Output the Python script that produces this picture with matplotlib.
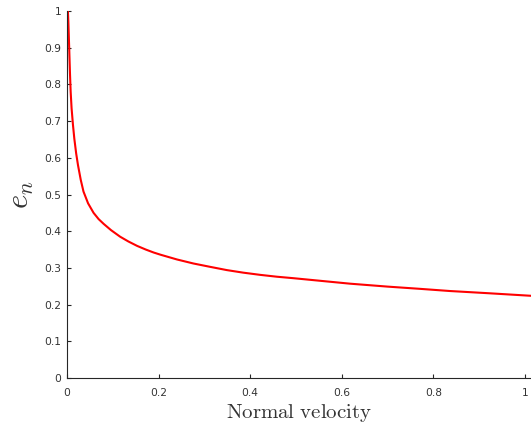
import matplotlib
matplotlib.use('Agg')
import matplotlib.pyplot as plt
from matplotlib.ticker import FormatStrFormatter

# values
velocity = [0.002, 0.003, 0.005, 0.0065, 0.008, 0.010, 0.013, 0.016, 0.020,
            0.024, 0.030, 0.036, 0.046, 0.058, 0.069, 0.080, 0.096, 0.116,
            0.134, 0.153, 0.172, 0.189, 0.204, 0.240, 0.276, 0.312, 0.349,
            0.385, 0.422, 0.458, 0.494, 0.560, 0.618, 0.700, 0.770, 0.836,
            0.920, 1.013]
e_n = [1.0, 0.97, 0.89, 0.83, 0.78, 0.735, 0.69, 0.652, 0.612,
       0.580, 0.540, 0.508, 0.476, 0.450, 0.433, 0.420, 0.403, 0.385,
       0.372, 0.360, 0.350, 0.342, 0.336, 0.323, 0.312, 0.303, 0.294,
       0.287, 0.281, 0.276, 0.272, 0.264, 0.257, 0.249, 0.243, 0.237,
       0.231, 0.224]
x_ticks = [0, 0.2, 0.4, 0.6, 0.8, 1.0]
y_ticks = [0, 0.1, 0.2, 0.3, 0.4, 0.5, 0.6, 0.7, 0.8, 0.9, 1.0]

plt.rcParams['mathtext.fontset'] = 'cm'
axis_col = '#262626'
text_col = '#333333'

fig = plt.figure(figsize=(5.31, 4.28), dpi=100)
ax = fig.add_axes([67 / 531, 50 / 428, (531 - 67) / 531, 367 / 428])
ax.plot(velocity, e_n, color='#ff0000', lw=1.5)

ax.set_xlim(0, 1.013)
ax.set_ylim(0, 1)
ax.set_xticks(x_ticks)
ax.set_yticks(y_ticks)
ax.xaxis.set_major_formatter(FormatStrFormatter('%g'))
ax.yaxis.set_major_formatter(FormatStrFormatter('%g'))
ax.tick_params(direction='in', length=3, width=0.8, color=axis_col,
               labelcolor=text_col, labelsize=7.7)
ax.tick_params(axis='x', pad=7)
ax.tick_params(axis='y', pad=4)
for side in ['top', 'right']:
    ax.spines[side].set_visible(False)
for side in ['left', 'bottom']:
    ax.spines[side].set_color(axis_col)
    ax.spines[side].set_linewidth(0.8)

ax.set_xlabel(r'$\mathrm{Normal\ velocity}$', fontsize=15, color=text_col,
              labelpad=3)
ax.set_ylabel(r'$e_n$', fontsize=22, color=text_col, labelpad=6)

plt.savefig('out.png', dpi=100)
